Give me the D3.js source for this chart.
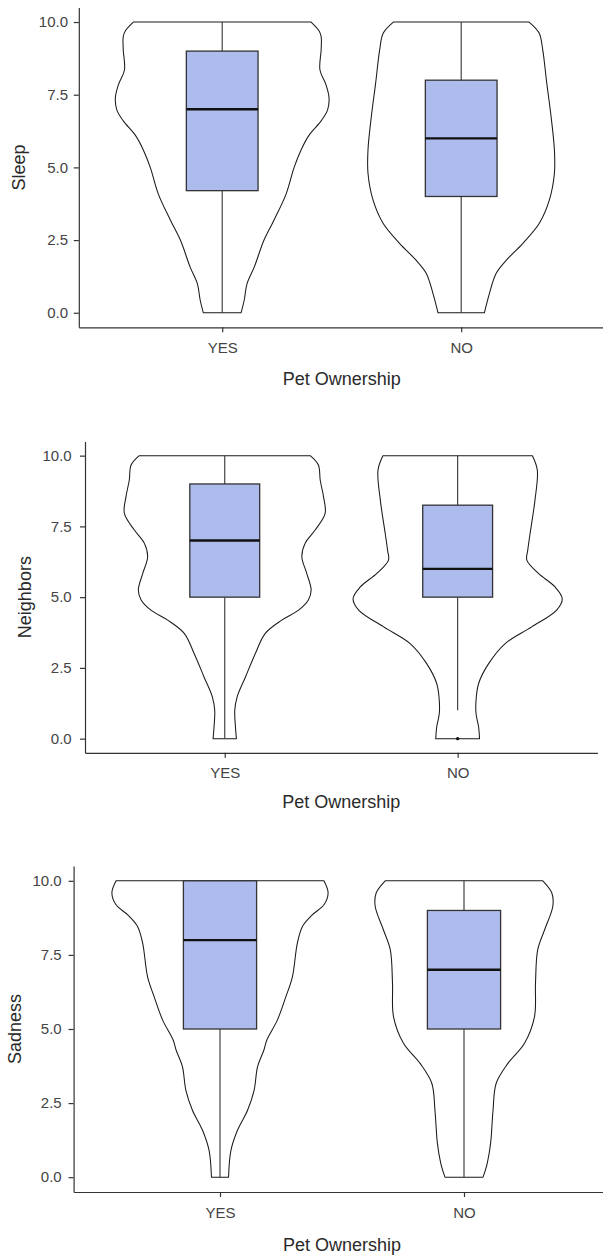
<!DOCTYPE html>
<html>
<head>
<meta charset="utf-8">
<script src="https://cdn.jsdelivr.net/npm/d3@7"></script>
<style>
  html, body { margin: 0; padding: 0; background: #fff; }
  svg { display: block; }
  text { font-family: Arial, "Liberation Sans", sans-serif; }
</style>
</head>
<body>
<script>
// ---------- DATA ----------
const categories = ["YES", "NO"];
const yTicks = [0, 2.5, 5, 7.5, 10];
const xTitle = "Pet Ownership";
const yTitles = ["Sleep", "Neighbors", "Sadness"];

// Violin profiles: [value, relative half-width (fraction of category step)]
const sleepYesViolin = [[10,0.372],[9.7,0.405],[9.5,0.414],[9.05,0.414],[8.35,0.409],[7.85,0.434],[7.4,0.447],[6.98,0.441],[6.6,0.414],[6.1,0.363],[5.6,0.330],[5.0,0.301],[4.1,0.268],[3.19,0.217],[2.5,0.175],[1.57,0.134],[1.0,0.104],[0.43,0.092],[0,0.079]];
const sleepNoViolin = [[10,0.284],[9.62,0.326],[9.05,0.341],[7.9,0.358],[6.75,0.376],[5.6,0.390],[4.8,0.390],[3.88,0.369],[3.08,0.327],[2.39,0.258],[1.8,0.188],[1.35,0.146],[0.66,0.118],[0,0.097]];

const neighYesViolin = [[10,0.367],[9.67,0.402],[9.13,0.410],[8.55,0.424],[7.96,0.431],[7.37,0.388],[6.9,0.345],[6.43,0.331],[5.84,0.352],[5.25,0.371],[4.9,0.359],[4.54,0.317],[4.19,0.245],[3.72,0.174],[3.0,0.131],[2.18,0.089],[1.47,0.053],[1.0,0.043],[0.41,0.046],[0,0.050]];
const neighNoViolin = [[10,0.321],[9.49,0.342],[8.43,0.332],[7.25,0.311],[6.66,0.301],[6.31,0.297],[5.84,0.347],[5.36,0.418],[4.95,0.449],[4.54,0.425],[3.95,0.318],[3.36,0.204],[2.65,0.133],[1.95,0.090],[1.36,0.079],[0.88,0.079],[0.41,0.090],[0,0.094]];

const sadYesViolin = [[10,0.426],[9.59,0.443],[9.19,0.426],[8.85,0.378],[8.46,0.338],[7.9,0.317],[6.77,0.297],[6.09,0.270],[5.3,0.235],[4.63,0.192],[4.29,0.180],[3.73,0.154],[2.94,0.140],[2.26,0.113],[1.59,0.072],[0.91,0.045],[0,0.035]];
const sadNoViolin = [[10,0.323],[9.59,0.360],[9.14,0.364],[8.34,0.330],[7.67,0.302],[6.54,0.293],[5.42,0.289],[4.52,0.248],[3.84,0.180],[3.17,0.132],[2.26,0.119],[1.14,0.109],[0.46,0.095],[0,0.078]];

// Box stats: [lower whisker, Q1, median, Q3, upper whisker]
const sleepYesBox = [0, 4.2, 7, 9, 10];
const sleepNoBox = [0, 4, 6, 8, 10];
const neighYesBox = [0, 5, 7, 9, 10];
const neighNoBox = [1, 5, 6, 8.25, 10];
const sadYesBox = [0, 5, 8, 10, 10];
const sadNoBox = [0, 5, 7, 9, 10];

// Outliers
const sleepYesOut = [], sleepNoOut = [];
const neighYesOut = [], neighNoOut = [0];
const sadYesOut = [], sadNoOut = [];

// ---------- LAYOUT ----------
const W = 603, H = 1255;
const panels = [
  { yTitle: yTitles[0], left: 78.8, right: 604.6, bottom: 327.3, top: 7.5, yTitleX: 24.5, xTitleY: 385, labelGap: 10.8,
    violins: [sleepYesViolin, sleepNoViolin], boxes: [sleepYesBox, sleepNoBox], outs: [sleepYesOut, sleepNoOut] },
  { yTitle: yTitles[1], left: 85, right: 597.4, bottom: 752.8, top: 441.5, yTitleX: 31, xTitleY: 808, labelGap: 13.3,
    violins: [neighYesViolin, neighNoViolin], boxes: [neighYesBox, neighNoBox], outs: [neighYesOut, neighNoOut] },
  { yTitle: yTitles[2], left: 73.6, right: 610.4, bottom: 1192, top: 866, yTitleX: 20.5, xTitleY: 1251, labelGap: 11.9,
    violins: [sadYesViolin, sadNoViolin], boxes: [sadYesBox, sadNoBox], outs: [sadYesOut, sadNoOut] }
];

const svg = d3.select("body").append("svg")
  .attr("width", W).attr("height", H)
  .attr("viewBox", `0 0 ${W} ${H}`);
svg.append("rect").attr("width", W).attr("height", H).attr("fill", "#fff");

const fmt = d3.format(".1f");
const axisColor = "#333333";
const tickTextColor = "#444444";

panels.forEach(p => {
  const g = svg.append("g");
  const x = d3.scalePoint().domain(categories).range([p.left, p.right]).padding(0.6);
  const step = x.step();
  const y = d3.scaleLinear().domain([-0.5, 10.5]).range([p.bottom, p.top]);
  const w = d3.scaleLinear().domain([0, 1]).range([0, step]);

  // violins
  categories.forEach((c, i) => {
    const cx = x(c);
    const area = d3.area()
      .curve(d3.curveCatmullRom.alpha(0.5))
      .y(d => y(d[0]))
      .x0(d => cx - w(d[1]))
      .x1(d => cx + w(d[1]));
    g.append("path")
      .datum(p.violins[i])
      .attr("d", area)
      .attr("fill", "#fff")
      .attr("stroke", "#1a1a1a")
      .attr("stroke-width", 1.05)
      .attr("stroke-linejoin", "round");
  });

  // boxplots
  categories.forEach((c, i) => {
    const cx = x(c);
    const b = p.boxes[i];
    const hw = w(0.15);
    const bg = g.append("g");
    bg.append("line").attr("x1", cx).attr("x2", cx).attr("y1", y(b[4])).attr("y2", y(b[3]))
      .attr("stroke", "#333").attr("stroke-width", 1.1);
    bg.append("line").attr("x1", cx).attr("x2", cx).attr("y1", y(b[1])).attr("y2", y(b[0]))
      .attr("stroke", "#333").attr("stroke-width", 1.1);
    bg.append("rect")
      .attr("x", cx - hw).attr("width", 2 * hw)
      .attr("y", y(b[3])).attr("height", y(b[1]) - y(b[3]))
      .attr("fill", "#adbced")
      .attr("stroke", "#333").attr("stroke-width", 1.3);
    bg.append("line").attr("x1", cx - hw).attr("x2", cx + hw).attr("y1", y(b[2])).attr("y2", y(b[2]))
      .attr("stroke", "#111").attr("stroke-width", 2.4);
    p.outs[i].forEach(o => {
      bg.append("circle").attr("cx", cx).attr("cy", y(o)).attr("r", 1.7).attr("fill", "#111");
    });
  });

  // y axis
  const yAxis = g.append("g").attr("transform", `translate(${p.left},0)`)
    .call(d3.axisLeft(y).tickValues(yTicks).tickFormat(fmt).tickSize(5).tickSizeOuter(0).tickPadding(p.labelGap - 5));
  yAxis.select(".domain").attr("stroke", axisColor).attr("stroke-width", 1.2);
  yAxis.selectAll(".tick line").attr("stroke", axisColor).attr("stroke-width", 1.2);
  yAxis.selectAll(".tick text").attr("fill", tickTextColor).style("font-size", "15px")
    .style("font-family", "Arial, 'Liberation Sans', sans-serif");

  // x axis
  const xAxis = g.append("g").attr("transform", `translate(0,${p.bottom})`)
    .call(d3.axisBottom(x).tickSize(5).tickSizeOuter(0).tickPadding(10));
  xAxis.select(".domain").attr("stroke", axisColor).attr("stroke-width", 1.2);
  xAxis.selectAll(".tick line").attr("stroke", axisColor).attr("stroke-width", 1.2);
  xAxis.selectAll(".tick text").attr("fill", tickTextColor).style("font-size", "15px")
    .style("font-family", "Arial, 'Liberation Sans', sans-serif");

  // titles
  g.append("text")
    .attr("x", (p.left + p.right) / 2).attr("y", p.xTitleY)
    .attr("text-anchor", "middle")
    .attr("fill", "#2a2a2a").style("font-size", "18px")
    .text(xTitle);
  g.append("text")
    .attr("transform", `translate(${p.yTitleX},${(p.top + p.bottom) / 2}) rotate(-90)`)
    .attr("text-anchor", "middle")
    .attr("fill", "#2a2a2a").style("font-size", "18px")
    .text(p.yTitle);
});
</script>
</body>
</html>
